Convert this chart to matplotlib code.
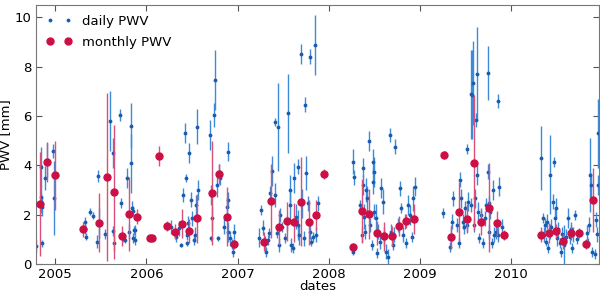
import matplotlib
matplotlib.use("Agg")
import matplotlib.pyplot as plt
from matplotlib.lines import Line2D

# ---- daily PWV (decimal year, value [mm], error [mm]) ----
daily_t = [
    2004.79, 2004.84, 2004.85, 2004.85, 2004.86, 2004.86, 2004.89, 2004.91, 2004.98, 2004.99,
    2005.33, 2005.33, 2005.34, 2005.38, 2005.41, 2005.46, 2005.47, 2005.48, 2005.55, 2005.60,
    2005.63, 2005.63, 2005.64, 2005.71, 2005.72, 2005.74, 2005.77, 2005.79, 2005.81, 2005.83,
    2005.83, 2005.84, 2005.85, 2005.85, 2005.87, 2005.88, 2005.86,
    2006.27, 2006.33, 2006.38, 2006.36, 2006.40, 2006.42, 2006.43, 2006.44, 2006.44, 2006.46,
    2006.47, 2006.49, 2006.50, 2006.52, 2006.53, 2006.54, 2006.55, 2006.57,
    2006.70, 2006.71, 2006.72, 2006.71, 2006.74, 2006.75, 2006.77, 2006.79, 2006.80, 2006.81,
    2006.85, 2006.88, 2006.89, 2006.90, 2006.90, 2006.92, 2006.94, 2006.96, 2006.95,
    2007.24, 2007.26, 2007.28, 2007.30, 2007.31, 2007.33, 2007.34, 2007.36, 2007.38, 2007.41,
    2007.41, 2007.43, 2007.44, 2007.45, 2007.47, 2007.49, 2007.52, 2007.54, 2007.55, 2007.57,
    2007.58, 2007.59, 2007.61, 2007.62, 2007.64, 2007.66, 2007.66, 2007.67, 2007.70, 2007.71,
    2007.73, 2007.74, 2007.75, 2007.77, 2007.79, 2007.79, 2007.81, 2007.83, 2007.85, 2007.86,
    2007.88,
    2008.25, 2008.27, 2008.27, 2008.28, 2008.34, 2008.36, 2008.37, 2008.38, 2008.39, 2008.40,
    2008.41, 2008.42, 2008.44, 2008.45, 2008.47, 2008.48, 2008.49, 2008.50, 2008.50, 2008.52,
    2008.53, 2008.54, 2008.56, 2008.57, 2008.59, 2008.60, 2008.61, 2008.63, 2008.65, 2008.67,
    2008.68, 2008.70, 2008.71, 2008.73, 2008.76, 2008.78, 2008.79, 2008.81, 2008.83, 2008.85,
    2008.87, 2008.89, 2008.91, 2008.92, 2008.94,
    2009.25, 2009.27, 2009.33, 2009.34, 2009.35, 2009.36, 2009.40, 2009.43, 2009.44, 2009.45,
    2009.47, 2009.48, 2009.49, 2009.51, 2009.52, 2009.53, 2009.56, 2009.56, 2009.57, 2009.58,
    2009.59, 2009.60, 2009.61, 2009.62, 2009.63, 2009.64, 2009.65, 2009.67, 2009.69, 2009.71,
    2009.72, 2009.74, 2009.75, 2009.76, 2009.76, 2009.77, 2009.79, 2009.80, 2009.81, 2009.83,
    2009.86, 2009.86, 2009.87, 2009.90,
    2010.33, 2010.35, 2010.36, 2010.37, 2010.38, 2010.39, 2010.40, 2010.42, 2010.43, 2010.44,
    2010.46, 2010.47, 2010.48, 2010.49, 2010.50, 2010.51, 2010.53, 2010.55, 2010.56, 2010.58,
    2010.60, 2010.62, 2010.64, 2010.65, 2010.67, 2010.68, 2010.70, 2010.72, 2010.83, 2010.84,
    2010.85, 2010.86, 2010.87, 2010.89, 2010.92, 2010.93, 2010.94, 2010.95, 2010.95,
]
daily_pwv = [
    0.73, 2.46, 2.70, 3.95, 2.33, 0.84, 3.48, 4.22, 4.58, 2.66,
    1.42, 1.69, 1.11, 2.12, 1.96, 0.91, 3.57, 1.65, 1.20, 5.80,
    1.34, 4.49, 0.84, 6.04, 2.49, 1.04, 0.97, 3.50, 1.31, 4.08,
    5.61, 2.26, 2.16, 1.04, 1.38, 0.97, 1.36,
    1.50, 1.11, 0.77, 1.45, 2.80, 5.30, 3.48, 1.18, 0.84, 1.65,
    4.49, 2.60, 1.85, 0.97, 1.18, 2.39, 5.57, 3.00,
    5.23, 2.80, 1.85, 1.04, 6.04, 7.46, 3.20, 1.04, 3.74, 3.50,
    1.51, 2.33, 4.56, 2.60, 1.31, 1.04, 0.80, 1.31, 0.50,
    1.07, 2.19, 1.47, 0.84, 0.50, 0.97, 1.24, 2.87, 3.77, 5.75,
    2.80, 1.24, 5.55, 0.77, 1.99, 1.51, 1.04, 1.65, 6.11, 2.39,
    3.00, 0.77, 0.64, 3.48, 1.92, 3.95, 1.58, 1.18, 8.51, 2.46,
    1.04, 6.45, 3.68, 2.46, 8.41, 1.31, 0.91, 1.11, 8.88, 1.18,
    2.46,
    0.64, 0.50, 4.15, 3.52, 2.39, 1.18, 3.91, 3.20, 1.92, 1.31,
    3.00, 2.66, 4.99, 1.58, 0.77, 4.15, 3.34, 3.74, 2.12, 1.85,
    0.43, 1.31, 0.91, 3.07, 2.53, 1.04, 1.20, 0.50, 0.30, 5.23,
    1.31, 0.77, 1.18, 4.76, 1.58, 3.07, 2.26, 1.18, 1.72, 0.84,
    2.39, 1.99, 1.11, 2.66, 3.14,
    2.05, 4.45, 0.70, 1.18, 1.72, 2.66, 1.58, 0.84, 3.41, 2.66,
    1.72, 1.51, 2.26, 4.67, 1.58, 2.53, 6.88, 2.39, 6.86, 7.33,
    1.58, 2.66, 5.84, 3.61, 7.69, 2.12, 1.04, 1.99, 0.84, 1.85,
    2.39, 7.74, 3.74, 2.46, 1.31, 2.12, 0.84, 3.00, 1.18, 1.31,
    1.18, 6.61, 3.14, 1.51,
    4.29, 1.85, 1.18, 1.58, 0.91, 1.72, 0.64, 1.31, 3.61, 1.51,
    2.53, 4.15, 1.85, 2.26, 1.04, 1.40, 0.84, 0.50, 1.20, 0.77,
    1.10, 1.85, 1.10, 1.40, 0.64, 1.20, 1.99, 1.00, 1.27, 0.84,
    1.60, 3.61, 3.20, 0.50, 0.40, 1.80, 1.20, 3.20, 5.30,
]
daily_err = [
    0.30, 0.40, 0.50, 0.80, 0.40, 0.15, 0.50, 0.70, 0.30, 1.50,
    0.20, 0.20, 0.15, 0.15, 0.15, 0.25, 0.25, 0.60, 0.20, 1.20,
    0.20, 0.60, 0.30, 0.25, 0.20, 0.15, 0.10, 0.40, 0.30, 1.20,
    0.90, 0.30, 0.20, 0.20, 0.20, 0.20, 0.20,
    0.30, 0.20, 0.10, 0.30, 0.30, 0.40, 0.15, 0.20, 0.10, 0.30,
    0.40, 0.30, 0.30, 0.20, 0.30, 0.40, 0.70, 0.40,
    0.60, 0.40, 0.50, 0.10, 0.50, 1.20, 0.50, 0.10, 0.30, 0.30,
    0.30, 0.40, 0.40, 0.30, 0.40, 0.30, 0.20, 0.30, 0.20,
    0.40, 0.20, 0.30, 0.30, 0.20, 0.20, 0.20, 0.30, 0.60, 0.15,
    0.50, 0.20, 1.80, 0.30, 0.30, 0.20, 0.20, 0.30, 1.60, 0.60,
    0.60, 0.30, 0.20, 0.60, 0.50, 0.30, 0.60, 0.40, 0.40, 0.60,
    0.30, 0.30, 0.70, 0.30, 0.30, 0.30, 0.20, 0.20, 1.20, 0.30,
    0.30,
    0.15, 0.15, 0.50, 0.30, 0.20, 0.30, 0.40, 0.40, 0.50, 0.30,
    0.50, 0.50, 0.40, 0.30, 0.20, 0.50, 0.50, 0.60, 0.30, 0.60,
    0.20, 0.30, 0.30, 0.40, 0.50, 0.30, 0.30, 0.30, 0.30, 0.30,
    0.30, 0.20, 0.30, 0.30, 0.30, 0.30, 0.20, 0.30, 0.30, 0.20,
    0.40, 0.40, 0.20, 0.50, 0.40,
    0.20, 0.15, 0.20, 0.30, 0.30, 0.30, 0.30, 0.20, 0.30, 0.40,
    0.30, 0.30, 0.30, 0.20, 0.30, 0.40, 1.80, 0.30, 1.80, 1.70,
    0.30, 0.40, 0.30, 0.40, 1.90, 0.40, 0.20, 0.30, 0.20, 0.30,
    0.30, 1.10, 0.30, 0.30, 0.30, 0.30, 0.20, 0.40, 0.30, 0.30,
    0.30, 0.30, 0.40, 0.30,
    1.30, 0.20, 0.30, 0.30, 0.20, 0.30, 0.20, 0.30, 1.60, 0.30,
    0.30, 0.20, 0.40, 0.40, 0.30, 0.30, 0.20, 0.20, 0.30, 0.80,
    0.30, 0.40, 0.30, 0.30, 0.20, 0.30, 0.20, 0.20, 0.30, 0.20,
    0.30, 1.50, 0.50, 0.20, 0.20, 0.30, 0.30, 0.40, 1.40,
]

# ---- monthly PWV ----
monthly_t = [
    2004.83, 2004.91, 2005.00, 2005.31, 2005.48, 2005.57, 2005.64, 2005.73, 2005.81, 2005.90,
    2006.04, 2006.06, 2006.14, 2006.23, 2006.31, 2006.39, 2006.47, 2006.56, 2006.72, 2006.80,
    2006.88, 2006.96, 2007.29, 2007.37, 2007.45, 2007.54, 2007.62, 2007.70, 2007.78, 2007.86,
    2007.95, 2008.27, 2008.36, 2008.44, 2008.53, 2008.61, 2008.69, 2008.77, 2008.85, 2008.93,
    2009.26, 2009.34, 2009.43, 2009.51, 2009.59, 2009.67, 2009.76, 2009.84, 2009.92,
    2010.33, 2010.41, 2010.49, 2010.57, 2010.66, 2010.74, 2010.82, 2010.90,
]
monthly_pwv = [
    2.43, 4.14, 3.60, 1.40, 1.68, 3.52, 2.92, 1.14, 2.03, 1.92,
    1.04, 1.04, 4.39, 1.54, 1.31, 1.64, 1.34, 1.85, 2.87, 3.66,
    1.92, 0.80, 0.91, 2.57, 1.49, 1.73, 1.69, 2.52, 1.69, 1.99,
    3.66, 0.70, 2.14, 2.02, 1.26, 1.12, 1.12, 1.54, 1.74, 1.83,
    4.42, 1.10, 2.12, 1.84, 4.11, 1.69, 2.29, 1.65, 1.19,
    1.18, 1.27, 1.34, 0.92, 1.27, 1.24, 0.82, 2.58,
]
monthly_err = [
    2.10, 0.80, 1.40, 0.30, 1.20, 3.40, 2.70, 0.40, 1.50, 0.30,
    0.05, 0.05, 0.40, 0.20, 0.30, 0.60, 0.50, 1.00, 2.10, 0.40,
    1.20, 0.20, 0.40, 1.50, 0.70, 0.80, 0.80, 1.80, 0.90, 0.60,
    0.20, 0.15, 1.30, 1.00, 0.50, 0.60, 0.40, 0.40, 0.30, 0.60,
    0.15, 0.50, 1.20, 0.60, 2.75, 0.50, 1.80, 0.50, 0.20,
    0.30, 0.40, 0.30, 0.30, 0.30, 0.20, 0.20, 1.30,
]

year_ticks = [2005, 2006, 2007, 2008, 2009, 2010]
year_labels = ["2005", "2006", "2007", "2008", "2009", "2010"]

plt.rcParams["font.family"] = ["DejaVu Sans"]
fig = plt.figure(figsize=(6.0, 2.93), dpi=100)
ax = fig.add_axes([0.06, 0.099, 0.938, 0.884])

d = ax.errorbar(daily_t, daily_pwv, yerr=daily_err, fmt=".", ms=3.5,
                color="#1c5cb0", ecolor="#3d8ad8", elinewidth=1.0, capsize=0,
                zorder=2)
m = ax.errorbar(monthly_t, monthly_pwv, yerr=monthly_err, fmt="o", ms=5,
                color="#cc0f45", mec="#cc0f45", ecolor="#d9507a",
                elinewidth=1.0, capsize=0, zorder=3)

h1 = Line2D([], [], ls="none", marker=".", ms=3.5, color="#1c5cb0")
h2 = Line2D([], [], ls="none", marker="o", ms=5, color="#cc0f45")
ax.legend([h1, h2], ["daily PWV", "monthly PWV"], loc="upper left",
          numpoints=2, frameon=False, fontsize=9.5, handlelength=2.0,
          borderaxespad=0.35, labelspacing=0.6, handletextpad=0.7)

ax.set_xlim(2004.79, 2010.96)
ax.set_ylim(0, 10.5)
ax.set_xticks(year_ticks)
ax.set_xticklabels(year_labels)
ax.set_yticks([0, 2, 4, 6, 8, 10])
ax.tick_params(direction="in", top=True, right=True, labelsize=9.5,
               length=4, color="#555555", pad=3)
for s in ax.spines.values():
    s.set_color("#777777")
ax.set_xlabel("dates", fontsize=9.5, labelpad=-1)
ax.set_ylabel("PWV [mm]", fontsize=9.5, labelpad=2)

fig.savefig("out.png", dpi=100)
